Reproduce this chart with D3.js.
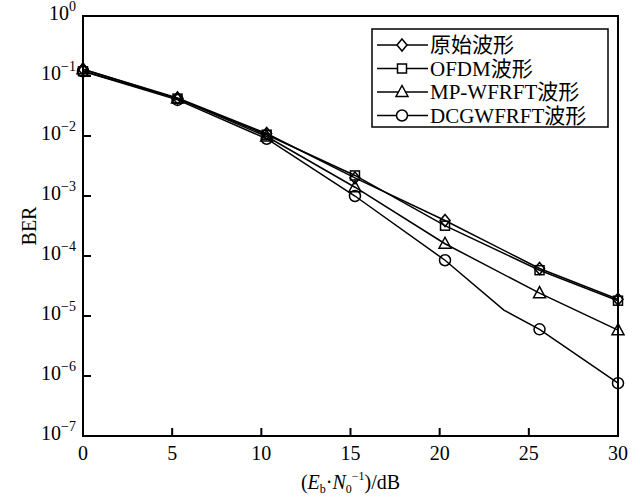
<!DOCTYPE html>
<html>
<head>
<meta charset="utf-8">
<script src="https://cdn.jsdelivr.net/npm/d3@7"></script>
<style>
  body { margin: 0; background: #fff; }
  text { font-family: "Liberation Serif", "Noto Sans CJK SC", serif; fill: #000; }
</style>
</head>
<body>
<div id="chart"></div>
<script>
// Data (markers)
var snrDb = [0, 5.3, 10.3, 15.25, 20.3, 25.6, 30]
var berOriginal = [0.13, 0.043, 0.011, 0.0020, 0.00039, 0.000062, 0.000019]
var berOfdm = [0.12, 0.042, 0.0105, 0.0022, 0.00032, 0.000058, 0.000018]
var berMpWfrft = [0.13, 0.042, 0.0098, 0.0014, 0.00016, 0.000024, 0.0000058]
var berDcgWfrft = [0.12, 0.040, 0.0090, 0.0010, 0.000085, 0.0000060, 0.00000076]
// DCGWFRFT curve has an extra bend between 20 and 25 dB
var dcgLineDb = [0, 5.3, 10.3, 15.25, 20.3, 23.6, 25.6, 30]
var dcgLineBer = [0.12, 0.040, 0.0090, 0.0010, 0.000085, 0.0000125, 0.0000060, 0.00000076]

var seriesNames = ['原始波形', 'OFDM波形', 'MP-WFRFT波形', 'DCGWFRFT波形']
var seriesMarkers = ['diamond', 'square', 'triangle', 'circle']
var xTicks = [0, 5, 10, 15, 20, 25, 30]
var yExponents = [0, -1, -2, -3, -4, -5, -6, -7]

// Layout
var margin = { top: 16, right: 22, bottom: 61, left: 83 }
var width = 640 - margin.left - margin.right
var height = 497 - margin.top - margin.bottom

var svg = d3.select('#chart').append('svg')
  .attr('width', 640)
  .attr('height', 497)

var g = svg.append('g')
  .attr('transform', 'translate(' + margin.left + ',' + margin.top + ')')

var x = d3.scaleLinear().domain([0, 30]).range([0, width])
var y = d3.scaleLog().domain([1e-7, 1]).range([height, 0])

var allSeries = [berOriginal, berOfdm, berMpWfrft, berDcgWfrft]
var lineSeries = [
  { xs: snrDb, ys: berOriginal },
  { xs: snrDb, ys: berOfdm },
  { xs: snrDb, ys: berMpWfrft },
  { xs: dcgLineDb, ys: dcgLineBer }
]

// Lines
lineSeries.forEach(function (s) {
  var line = d3.line()
    .x(function (d, i) { return x(s.xs[i]) })
    .y(function (d) { return y(d) })
  g.append('path')
    .attr('d', line(s.ys))
    .attr('fill', 'none')
    .attr('stroke', '#000')
    .attr('stroke-width', 1.5)
})

// Marker drawing
function drawMarker (sel, type, cx, cy) {
  if (type === 'diamond') {
    sel.append('path')
      .attr('d', 'M' + cx + ',' + (cy - 6) + 'L' + (cx + 5) + ',' + cy + 'L' + cx + ',' + (cy + 6) + 'L' + (cx - 5) + ',' + cy + 'Z')
  } else if (type === 'square') {
    sel.append('rect').attr('x', cx - 4.5).attr('y', cy - 4.5).attr('width', 9).attr('height', 9)
  } else if (type === 'triangle') {
    sel.append('path')
      .attr('d', 'M' + cx + ',' + (cy - 6.5) + 'L' + (cx + 6) + ',' + (cy + 4.5) + 'L' + (cx - 6) + ',' + (cy + 4.5) + 'Z')
  } else {
    sel.append('circle').attr('cx', cx).attr('cy', cy).attr('r', 5.5)
  }
}

allSeries.forEach(function (s, k) {
  var mg = g.append('g')
    .attr('fill', 'none')
    .attr('stroke', '#000')
    .attr('stroke-width', 1.5)
  s.forEach(function (d, i) {
    drawMarker(mg, seriesMarkers[k], x(snrDb[i]), y(d))
  })
})

// Frame
g.append('rect')
  .attr('width', width)
  .attr('height', height)
  .attr('fill', 'none')
  .attr('stroke', '#000')
  .attr('stroke-width', 2)

// X ticks (inward)
g.selectAll('.xtick')
  .data(xTicks)
  .enter().append('line')
  .attr('x1', function (d) { return x(d) })
  .attr('x2', function (d) { return x(d) })
  .attr('y1', height)
  .attr('y2', height - 8)
  .attr('stroke', '#000')
  .attr('stroke-width', 2)

g.selectAll('.xlabel')
  .data(xTicks)
  .enter().append('text')
  .attr('x', function (d) { return x(d) })
  .attr('y', height + 24)
  .attr('text-anchor', 'middle')
  .style('font-size', '20px')
  .text(function (d) { return d })

// Y ticks (inward)
g.selectAll('.ytick')
  .data(yExponents)
  .enter().append('line')
  .attr('x1', 0)
  .attr('x2', 8)
  .attr('y1', function (d) { return y(Math.pow(10, d)) })
  .attr('y2', function (d) { return y(Math.pow(10, d)) })
  .attr('stroke', '#000')
  .attr('stroke-width', 2)

var yl = g.selectAll('.ylabel')
  .data(yExponents)
  .enter().append('text')
  .attr('x', -7)
  .attr('y', function (d) { return y(Math.pow(10, d)) + 4 })
  .attr('text-anchor', 'end')
  .style('font-size', '20px')

yl.append('tspan').text('10')
yl.append('tspan')
  .attr('dy', -9)
  .style('font-size', '14px')
  .text(function (d) { return d === 0 ? '0' : '\u2212' + (-d) })

// Axis titles
svg.append('text')
  .attr('transform', 'translate(36,' + (margin.top + height / 2) + ') rotate(-90)')
  .attr('text-anchor', 'middle')
  .style('font-size', '20px')
  .text('BER')

var xt = svg.append('text')
  .attr('x', margin.left + width / 2)
  .attr('y', 489)
  .attr('text-anchor', 'middle')
  .style('font-size', '20px')
xt.append('tspan').text('(')
xt.append('tspan').style('font-style', 'italic').text('E')
xt.append('tspan').attr('dy', 4).style('font-size', '12px').text('b')
xt.append('tspan').attr('dy', -4).text('\u00b7')
xt.append('tspan').style('font-style', 'italic').text('N')
xt.append('tspan').attr('dy', 4).style('font-size', '12px').text('0')
xt.append('tspan').attr('dy', -13).style('font-size', '12px').text('\u22121')
xt.append('tspan').attr('dy', 9).text(')/dB')

// Legend
var lg = svg.append('g').attr('transform', 'translate(372,29)')
lg.append('rect')
  .attr('width', 236)
  .attr('height', 98)
  .attr('fill', '#fff')
  .attr('stroke', '#000')
  .attr('stroke-width', 1.5)

seriesNames.forEach(function (name, k) {
  var ry = 16 + k * 23.5
  var row = lg.append('g')
  row.append('line')
    .attr('x1', 5).attr('x2', 56)
    .attr('y1', ry).attr('y2', ry)
    .attr('stroke', '#000').attr('stroke-width', 1.5)
  var mg = row.append('g').attr('fill', '#fff').attr('stroke', '#000').attr('stroke-width', 1.5)
  drawMarker(mg, seriesMarkers[k], 30, ry)
  row.append('text')
    .attr('x', 58)
    .attr('y', ry + 7)
    .style('font-size', '21px')
    .text(name)
})
</script>
</body>
</html>
